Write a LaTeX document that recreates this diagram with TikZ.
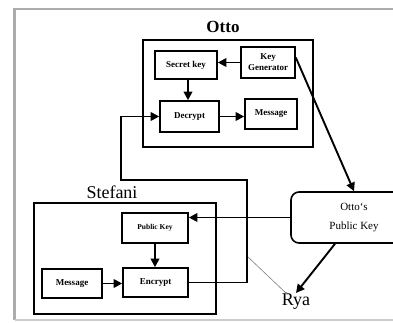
\documentclass[tikz,border=0pt]{standalone}
\usepackage{fontspec}
\setmainfont{Liberation Serif}
\usetikzlibrary{arrows.meta}
\begin{document}
\begin{tikzpicture}[x=1pt,y=-1pt,
  blk/.style={draw,line width=1.6pt,inner sep=0pt,align=center,
    font=\fontsize{9}{11}\selectfont\bfseries},
  group/.style={draw,line width=1.6pt},
  arr/.style={line width=1.9pt,-{Triangle[length=8.5pt,width=8.5pt]}},
  thin/.style={gray,line width=0.6pt,-{Latex[length=3pt,width=2.5pt]}},
  frame/.style={draw=gray!65,line width=2.5pt}]
\useasboundingbox (0,0) rectangle (393,322);
\fill[white] (0,0) rectangle (393,322);

% outer panel
\draw[frame] (400,9) -- (14.5,9) -- (14.5,320);
\draw[draw=gray!40,line width=1.5pt] (14.5,320) -- (400,320);

% Otto
\node[font=\fontsize{17}{19}\selectfont\bfseries] (ottot) at (223,27) {Otto};
\draw[group] (143,40) rectangle (313,147);
\node[blk,minimum width=62pt,minimum height=28pt] (sk) at (186,65) {Secret key};
\node[blk,minimum width=54pt,minimum height=31pt] (kg) at (268,62.5) {Key\\Generator};
\node[blk,minimum width=59pt,minimum height=31pt] (dec) at (189.5,116.5) {Decrypt};
\node[blk,minimum width=52pt,minimum height=30pt] (msgo) at (271,114) {Message};

% Stefani
\node[font=\fontsize{18}{20}\selectfont] (stefanit) at (112,192) {Stefani};
\draw[group] (34,203) rectangle (216,314);
\node[blk,minimum width=66pt,minimum height=30pt,font=\fontsize{7.5}{9}\selectfont\bfseries] (pks) at (155,228) {Public Key};
\node[blk,minimum width=65pt,minimum height=29pt] (enc) at (155.5,282.5) {Encrypt};
\node[blk,minimum width=60pt,minimum height=29pt] (msgs) at (72,283.5) {Message};

% published key and the outsider
\node[draw,line width=1.6pt,rounded corners=8pt,minimum width=126pt,minimum height=51pt,
  align=center,font=\fontsize{11}{19}\selectfont] (opk) at (354,217.5) {Otto`s\\Public Key};
\node[font=\fontsize{18}{20}\selectfont,inner sep=1pt] (rya) at (296,302) {Rya};

% connectors
\coordinate (lpr) at (247,180);
\coordinate (lpl) at (121,180);
\coordinate (tap) at (248,257);
\draw[arr] (kg.west) -- (kg.west -| sk.east);
\draw[arr] ([xshift=2pt]sk.south) -- ([xshift=2pt]sk.south |- dec.north);
\draw[arr] (dec.east) -- (dec.east -| msgo.west);
\draw[arr] ([yshift=5pt]kg.east) -- (opk.north);
\draw[arr] (opk.west) -- (opk.west -| pks.east);
\draw[arr] (pks.south) -- (pks.south |- enc.north);
\draw[arr] (msgs.east) -- (msgs.east -| enc.west);
\draw[arr] (enc.east) -| (lpr) -- (lpl) |- (dec.west);
\draw[arr] ([xshift=-19pt]opk.south) -- (rya.north);
\draw[thin] (tap) -- ([xshift=-8pt,yshift=-2pt]rya.north);
\end{tikzpicture}
\end{document}
